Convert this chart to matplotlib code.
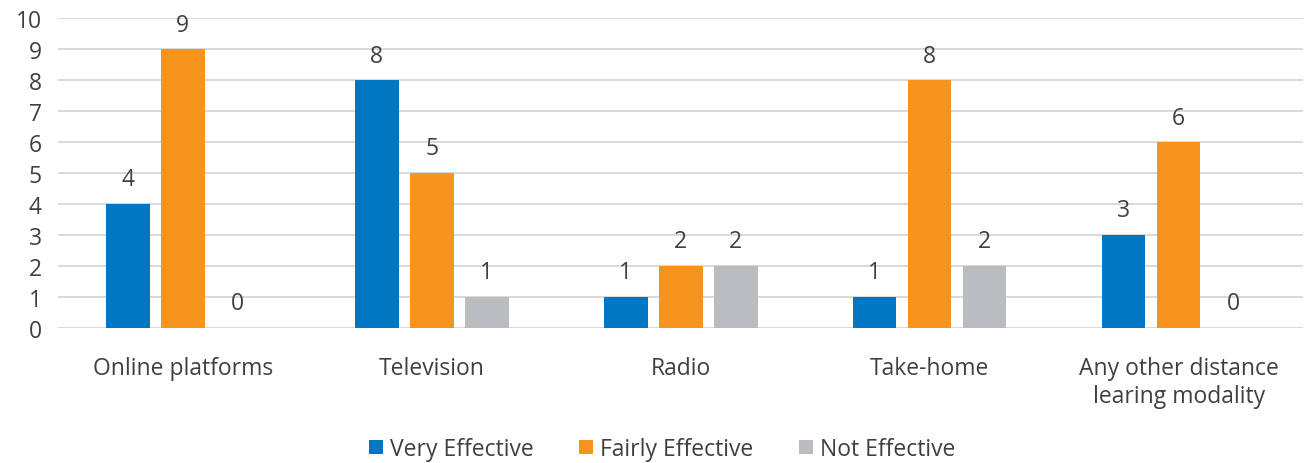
import numpy as np
import matplotlib.pyplot as plt

plt.rcParams['font.family'] = ['Open Sans', 'DejaVu Sans']

categories = ['Online platforms', 'Television', 'Radio', 'Take-home',
              'Any other distance\nlearing modality']
very_effective = [4, 8, 1, 1, 3]
fairly_effective = [9, 5, 2, 8, 6]
not_effective = [0, 1, 2, 2, 0]
series_names = ['Very Effective', 'Fairly Effective', 'Not Effective']
colors = ['#0077C0', '#F7941D', '#BBBCBF']
text_color = '#404040'

fig = plt.figure(figsize=(13.11, 4.64), dpi=100)
ax = fig.add_axes([0.0445, 0.291, 0.9495, 0.668])

x = np.arange(len(categories))
width = 0.175
step = 0.221
for i, (vals, name, c) in enumerate(zip([very_effective, fairly_effective, not_effective], series_names, colors)):
    pos = x + (i - 1) * step
    ax.bar(pos, vals, width, color=c, label=name, zorder=3)
    for p, v in zip(pos, vals):
        ax.annotate(str(v), (p, v), xytext=(0, 9), textcoords='offset points',
                    ha='center', va='bottom', fontsize=16.5, color=text_color)

ax.set_xlim(-0.5, len(categories) - 0.5)
ax.set_ylim(0, 10)
ax.set_yticks(range(0, 11))
ax.set_xticks(x)
ax.set_xticklabels(categories, fontsize=16.5, color=text_color, linespacing=1.25)
ax.tick_params(axis='y', labelsize=16.5, labelcolor=text_color, length=0, pad=12)
ax.tick_params(axis='x', length=0, pad=20)
ax.grid(axis='y', color='#D9D9D9', linewidth=1.4, zorder=0)
for s in ax.spines.values():
    s.set_visible(False)

fig.legend(loc='lower center', bbox_to_anchor=(0.505, -0.04), ncol=3, frameon=False,
           fontsize=16.5, handlelength=0.6, handleheight=0.6, handletextpad=0.3,
           columnspacing=2.0, labelcolor=text_color)

fig.savefig('out.png', dpi=100)
